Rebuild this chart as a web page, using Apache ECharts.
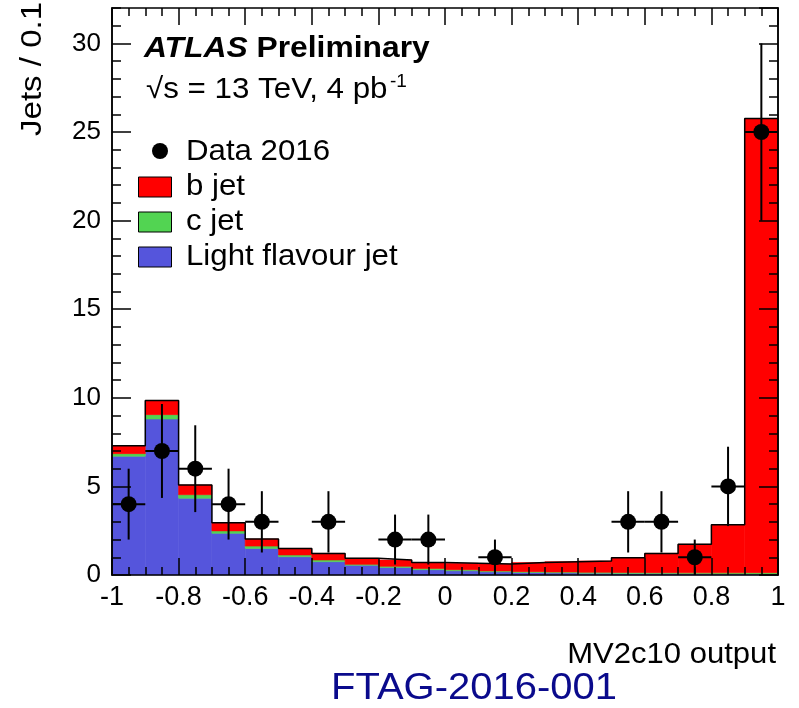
<!DOCTYPE html>
<html>
<head>
<meta charset="utf-8">
<script src="https://cdn.jsdelivr.net/npm/echarts@6/dist/echarts.min.js"></script>
<style>
  html, body { margin: 0; padding: 0; background: #ffffff; }
  #chart { width: 799px; height: 708px; }
</style>
</head>
<body>
<div id="chart"></div>
<script>
// MV2c10 discriminant: lower bin edges (bin width 0.1)
const binLow = [-1.0, -0.9, -0.8, -0.7, -0.6, -0.5, -0.4, -0.3, -0.2, -0.1,
                 0.0,  0.1,  0.2,  0.3,  0.4,  0.5,  0.6,  0.7,  0.8,  0.9];
const BIN_W = 0.1;

// Simulated jets per bin, by flavour (stacked light -> c -> b)
const lightJet = [6.70, 8.80, 4.33, 2.35, 1.50, 1.03, 0.75, 0.55, 0.43, 0.30,
                  0.24, 0.18, 0.14, 0.12, 0.10, 0.09, 0.08, 0.07, 0.06, 0.05];
const cJet     = [0.15, 0.25, 0.20, 0.14, 0.13, 0.10, 0.10, 0.05, 0.06, 0.07,
                  0.06, 0.05, 0.05, 0.05, 0.05, 0.05, 0.05, 0.05, 0.06, 0.08];
const bJet     = [0.45, 0.80, 0.55, 0.46, 0.40, 0.37, 0.37, 0.34, 0.36, 0.33,
                  0.36, 0.39, 0.51, 0.58, 0.64, 0.84, 1.09, 1.61, 2.72, 25.63];

// Data 2016: bin centres, counts and statistical uncertainties
const dataX   = [-0.95, -0.85, -0.75, -0.65, -0.55, -0.35, -0.15, -0.05, 0.15, 0.55, 0.65, 0.75, 0.85, 0.95];
const dataY   = [4, 7, 6, 4, 3, 3, 2, 2, 1, 3, 3, 1, 5, 25];
const dataErr = [2.00, 2.65, 2.45, 2.00, 1.73, 1.73, 1.41, 1.41, 1.00, 1.73, 1.73, 1.00, 2.24, 5.00];

// Axis tick labels
const xTickLabels = ['-1', '-0.8', '-0.6', '-0.4', '-0.2', '0', '0.2', '0.4', '0.6', '0.8', '1'];
const yTickLabels = ['0', '5', '10', '15', '20', '25', '30'];

const FONT = '"Liberation Sans", Arial, Helvetica, sans-serif';
const COL_B = '#ff0000';
const COL_C = '#52d452';
const COL_L = '#5555dc';

// Build stacked [lowEdge, base, top] rows
const lightRows = [], cRows = [], bRows = [], outline = [];
binLow.forEach((x, i) => {
  const l = lightJet[i], lc = l + cJet[i], tot = lc + bJet[i];
  lightRows.push([x, 0, l]);
  cRows.push([x, l, lc]);
  bRows.push([x, lc, tot]);
  outline.push([x, tot]);
});
outline.push([binLow[binLow.length - 1] + BIN_W, outline[outline.length - 1][1]]);

function binRect(params, api) {
  const p0 = api.coord([api.value(0), api.value(1)]);
  const p1 = api.coord([api.value(0) + BIN_W, api.value(2)]);
  const color = api.visual('color');
  return {
    type: 'rect',
    shape: { x: p0[0], y: p1[1], width: p1[0] - p0[0], height: p0[1] - p1[1] },
    style: { fill: color, stroke: color, lineWidth: 0.6 }
  };
}

function errorBar(params, api) {
  const x = api.value(0), y = api.value(1), e = api.value(2);
  const lo = api.coord([x, Math.max(0, y - e)]);
  const hi = api.coord([x, y + e]);
  const l = api.coord([x - BIN_W / 2, y]);
  const r = api.coord([x + BIN_W / 2, y]);
  const st = { stroke: '#000', lineWidth: 2 };
  return {
    type: 'group',
    children: [
      { type: 'line', shape: { x1: lo[0], y1: lo[1], x2: hi[0], y2: hi[1] }, style: st },
      { type: 'line', shape: { x1: l[0], y1: l[1], x2: r[0], y2: r[1] }, style: st }
    ]
  };
}

const lineSt = { color: '#000', width: 1.5 };

function xAxisCfg(pos, labels) {
  return {
    type: 'value', position: pos, min: -1, max: 1, interval: 0.2, z: 10,
    axisLine: { show: true, onZero: false, lineStyle: lineSt },
    axisTick: { show: true, inside: true, length: 17, lineStyle: lineSt },
    minorTick: { show: true, splitNumber: 4, length: 8, lineStyle: lineSt },
    splitLine: { show: false }, minorSplitLine: { show: false },
    axisLabel: labels ? {
      show: true, color: '#000', fontFamily: FONT, fontSize: 27, margin: 9,
      formatter: v => xTickLabels[Math.round((v + 1) / 0.2)]
    } : { show: false }
  };
}

function yAxisCfg(pos, major, labels) {
  return {
    type: 'value', position: pos, min: 0, max: 32, interval: major ? 5 : 1, z: 10,
    axisLine: { show: true, onZero: false, lineStyle: lineSt },
    axisTick: { show: true, inside: true, length: major ? 19 : 9, lineStyle: lineSt },
    splitLine: { show: false },
    axisLabel: labels ? {
      show: true, color: '#000', fontFamily: FONT, fontSize: 26, margin: 11,
      showMaxLabel: false,
      formatter: v => (v % 5 === 0 && v <= 30) ? yTickLabels[v / 5] : ''
    } : { show: false }
  };
}

// helper for free-standing labels
function label(x, y, text, size, opts) {
  const o = opts || {};
  return {
    type: 'text', x: x, y: y, rotation: o.rotation || 0, scaleX: o.sx || 1,
    style: Object.assign({
      text: text, fontFamily: FONT, fontSize: size, fill: '#000',
      align: 'left', verticalAlign: 'middle'
    }, o.style || {})
  };
}

const chart = echarts.init(document.getElementById('chart'), null, { renderer: 'canvas' });

chart.setOption({
  animation: false,
  backgroundColor: '#ffffff',
  grid: { left: 112, right: 21, top: 8, bottom: 133 },
  xAxis: [xAxisCfg('bottom', true), xAxisCfg('top', false)],
  yAxis: [
    yAxisCfg('left', true, true),
    yAxisCfg('left', false, false),
    yAxisCfg('right', true, false),
    yAxisCfg('right', false, false)
  ],
  series: [
    { name: 'Light flavour jet', type: 'custom', renderItem: binRect, data: lightRows,
      itemStyle: { color: COL_L }, encode: { x: 0, y: [1, 2] }, z: 2 },
    { name: 'c jet', type: 'custom', renderItem: binRect, data: cRows,
      itemStyle: { color: COL_C }, encode: { x: 0, y: [1, 2] }, z: 2 },
    { name: 'b jet', type: 'custom', renderItem: binRect, data: bRows,
      itemStyle: { color: COL_B }, encode: { x: 0, y: [1, 2] }, z: 2 },
    { name: 'Total', type: 'line', step: 'end', data: outline, symbol: 'none',
      lineStyle: { color: '#000', width: 1.5 }, z: 3 },
    { name: 'Data 2016 uncertainty', type: 'custom', renderItem: errorBar,
      data: dataX.map((x, i) => [x, dataY[i], dataErr[i]]), encode: { x: 0, y: 1 }, z: 4 },
    { name: 'Data 2016', type: 'scatter', data: dataX.map((x, i) => [x, dataY[i]]),
      symbol: 'circle', symbolSize: 16, itemStyle: { color: '#000', opacity: 1 }, z: 5 }
  ],
  graphic: [
    // axis titles
    label(33, 2, 'Jets / 0.1', 30, { rotation: Math.PI / 2, sx: 1.1, style: { align: 'right' } }),
    label(776, 655, 'MV2c10 output', 29, { sx: 1.07, style: { align: 'right' } }),
    // publication reference
    label(474, 689, 'FTAG-2016-001', 37, { sx: 1.08, style: { align: 'center', fill: '#0a0a8c' } }),
    // ATLAS label
    label(144, 49, '{a|ATLAS} {b|Preliminary}', 30, { sx: 1.06, style: {
      rich: { a: { fontFamily: FONT, fontSize: 30, fontWeight: 'bold', fontStyle: 'italic' },
              b: { fontFamily: FONT, fontSize: 30, fontWeight: 'bold' } } } }),
    label(146, 90, '√s = 13 TeV, 4 pb', 29, { sx: 1.08 }),
    label(390, 82, '-1', 19),
    // legend
    { type: 'circle', shape: { cx: 160, cy: 151, r: 8 }, style: { fill: '#000' } },
    label(186, 152, 'Data 2016', 30, { sx: 1.04 }),
    { type: 'rect', shape: { x: 138.5, y: 177, width: 33, height: 20 },
      style: { fill: COL_B, stroke: '#000', lineWidth: 1 } },
    label(186, 187, 'b jet', 30, { sx: 1.04 }),
    { type: 'rect', shape: { x: 138.5, y: 212, width: 33, height: 20 },
      style: { fill: COL_C, stroke: '#000', lineWidth: 1 } },
    label(186, 222, 'c jet', 30, { sx: 1.04 }),
    { type: 'rect', shape: { x: 138.5, y: 247, width: 33, height: 20 },
      style: { fill: COL_L, stroke: '#000', lineWidth: 1 } },
    label(186, 257, 'Light flavour jet', 30, { sx: 1.04 })
  ]
});
</script>
</body>
</html>
